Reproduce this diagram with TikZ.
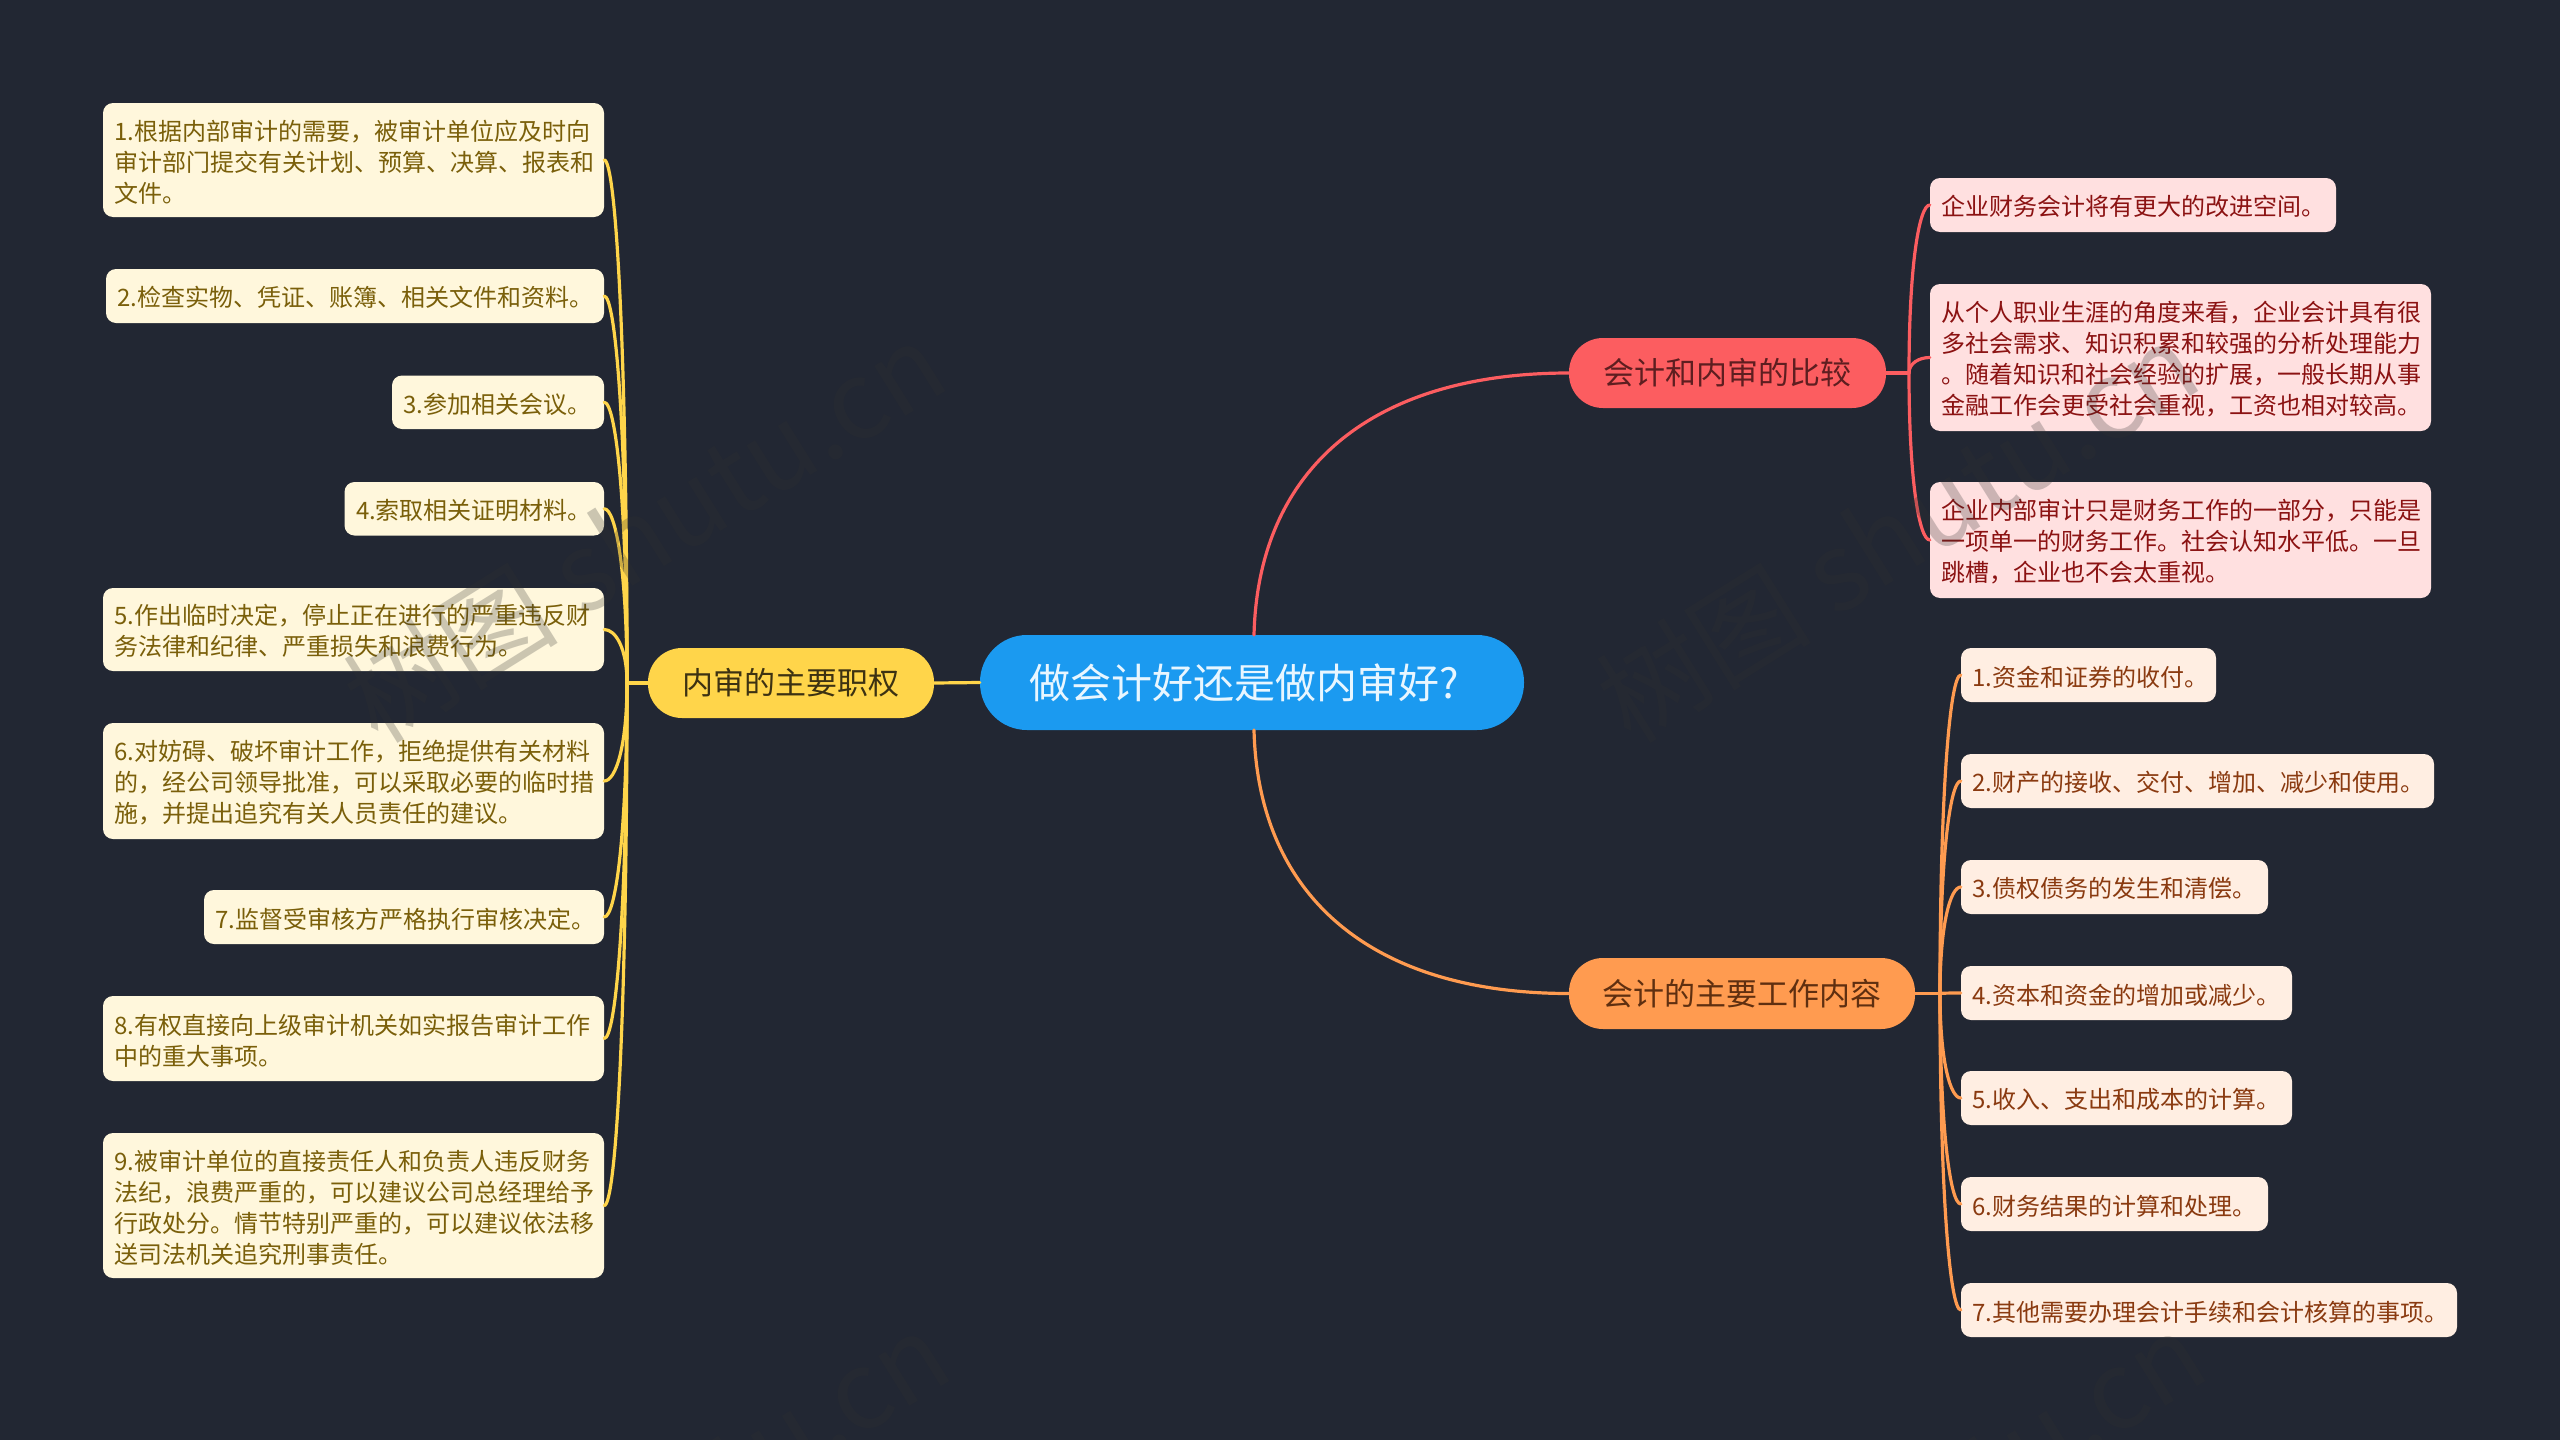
\documentclass[tikz,border=0pt]{standalone}
\usepackage{fontspec}
\usetikzlibrary{calc}
\setmainfont{Noto Sans CJK SC}
\definecolor{bgc}{HTML}{222733}
\definecolor{rootc}{HTML}{1B9AF0}
\definecolor{roott}{HTML}{E8F6FF}
\definecolor{yelc}{HTML}{FFD54A}
\definecolor{yelt}{HTML}{3D3212}
\definecolor{yell}{HTML}{FFF7DC}
\definecolor{yeltt}{HTML}{7A5F0A}
\definecolor{redc}{HTML}{FC5D60}
\definecolor{redt}{HTML}{5E1E20}
\definecolor{redl}{HTML}{FFE0E0}
\definecolor{redtt}{HTML}{8B1212}
\definecolor{orac}{HTML}{FF9B50}
\definecolor{orat}{HTML}{5F2F10}
\definecolor{oral}{HTML}{FFEEE2}
\definecolor{oratt}{HTML}{8A3A10}
\definecolor{wmc}{HTML}{303030}
\tikzset{
  x=1pt,y=-1pt,
  box/.style={rectangle,inner sep=0pt,align=left},
  rootbox/.style={box,rounded corners=47pt,fill=rootc,text=roott,align=center,font=\fontsize{41}{48}\selectfont},
  topicbox/.style={box,rounded corners=34pt,align=center,font=\fontsize{31}{38}\selectfont},
  leafbox/.style={box,rounded corners=10pt,font=\fontsize{24}{31}\selectfont},
  yt/.style={topicbox,fill=yelc,text=yelt},
  rt/.style={topicbox,fill=redc,text=redt},
  ot/.style={topicbox,fill=orac,text=orat},
  yl/.style={leafbox,fill=yell,text=yeltt},
  rl/.style={leafbox,fill=redl,text=redtt},
  ol/.style={leafbox,fill=oral,text=oratt},
  link/.style={line width=3.2pt,line cap=round},
  ylink/.style={link,draw=yelc},
  rlink/.style={link,draw=redc},
  olink/.style={link,draw=orac},
  wmark/.style={text=wmc,text opacity=0.25,font=\fontsize{108}{116}\selectfont,rotate=32},
}
% \nd{style}{name}{x0}{y0}{x1}{y1}{text}: box by its pixel edges
\newcommand{\nd}[7]{%
  \pgfmathsetmacro{\bw}{#5-#3}\pgfmathsetmacro{\bh}{#6-#4}%
  \pgfmathsetmacro{\cx}{(#3+#5)/2}\pgfmathsetmacro{\cy}{(#4+#6)/2}%
  \node[#1,minimum width=\bw pt,minimum height=\bh pt] (#2) at (\cx,\cy) {#7};}
% \lf: leaf with left-aligned text
\newcommand{\lf}[7]{%
  \pgfmathsetmacro{\bw}{#5-#3}\pgfmathsetmacro{\bh}{#6-#4}\pgfmathsetmacro{\tw}{#5-#3-23}%
  \pgfmathsetmacro{\cx}{(#3+#5)/2}\pgfmathsetmacro{\cy}{(#4+#6)/2}%
  \node[#1,minimum width=\bw pt,minimum height=\bh pt,text width=\tw pt] (#2) at (\cx,\cy) {\rule{0pt}{24pt}#7};}
% \lk: trunk to leaf curve
\newcommand{\lk}[3]{%
  \draw[#1] (#2) .. controls ($(#2)!0.65!(#2 |- #3)$) and ($(#2 |- #3)!0.5!(#3)$) .. (#3);}
\begin{document}
\begin{tikzpicture}
\useasboundingbox (0,0) rectangle (2560,1440);
\fill[bgc] (0,0) rectangle (2560,1440);

\nd{rootbox}{root}{980}{635}{1524}{730}{\hspace*{-16pt}做会计好还是做内审好?}
\nd{yt}{ty}{648}{648}{934}{718}{内审的主要职权}
\nd{rt}{tr}{1569}{338}{1886}{408}{会计和内审的比较}
\nd{ot}{to}{1569}{958}{1915}{1029}{会计的主要工作内容}

\lf{yl}{la}{103}{103}{604}{217}{1.根据内部审计的需要，被审计单位应及时向\\审计部门提交有关计划、预算、决算、报表和\\文件。}
\lf{yl}{lb}{106}{269}{604}{323}{2.检查实物、凭证、账簿、相关文件和资料。}
\lf{yl}{lc}{392}{375.5}{604}{429}{3.参加相关会议。}
\lf{yl}{ld}{344.5}{482}{604}{535.5}{4.索取相关证明材料。}
\lf{yl}{le}{103}{588}{604}{671}{5.作出临时决定，停止正在进行的严重违反财\\务法律和纪律、严重损失和浪费行为。}
\lf{yl}{lf}{103}{723}{604}{839}{6.对妨碍、破坏审计工作，拒绝提供有关材料\\的，经公司领导批准，可以采取必要的临时措\\施，并提出追究有关人员责任的建议。}
\lf{yl}{lg}{204}{890}{604}{944}{7.监督受审核方严格执行审核决定。}
\lf{yl}{lh}{103}{996}{604}{1081}{8.有权直接向上级审计机关如实报告审计工作\\中的重大事项。}
\lf{yl}{li}{103}{1133}{604}{1278}{9.被审计单位的直接责任人和负责人违反财务\\法纪，浪费严重的，可以建议公司总经理给予\\行政处分。情节特别严重的，可以建议依法移\\送司法机关追究刑事责任。}

\lf{rl}{ra}{1930}{178}{2336}{232}{企业财务会计将有更大的改进空间。}
\lf{rl}{rb}{1930}{284}{2431}{431}{从个人职业生涯的角度来看，企业会计具有很\\多社会需求、知识积累和较强的分析处理能力\\。随着知识和社会经验的扩展，一般长期从事\\金融工作会更受社会重视，工资也相对较高。}
\lf{rl}{rc}{1930}{482}{2431}{598}{企业内部审计只是财务工作的一部分，只能是\\一项单一的财务工作。社会认知水平低。一旦\\跳槽，企业也不会太重视。}

\lf{ol}{oa}{1961}{648}{2216}{702}{1.资金和证券的收付。}
\lf{ol}{ob}{1961}{754}{2434}{808}{2.财产的接收、交付、增加、减少和使用。}
\lf{ol}{oc}{1961}{860}{2268}{914}{3.债权债务的发生和清偿。}
\lf{ol}{od}{1961}{966}{2292}{1020}{4.资本和资金的增加或减少。}
\lf{ol}{oe}{1961}{1071}{2292}{1125}{5.收入、支出和成本的计算。}
\lf{ol}{of}{1961}{1177}{2268}{1231}{6.财务结果的计算和处理。}
\lf{ol}{og}{1961}{1283}{2457}{1337}{7.其他需要办理会计手续和会计核算的事项。}

\coordinate (ytrunk) at (627,683);
\coordinate (rtrunk) at (1909,373);
\coordinate (otrunk) at (1940,993.5);
\coordinate (rootup) at (1254,635);
\coordinate (rootdn) at (1254,730);

\draw[ylink] (root.west) -- (ty.east);
\draw[rlink] (rootup) .. controls (1258,470) and (1370,373) .. (tr.west);
\draw[olink] (rootdn) .. controls (1258,895) and (1370,993.5) .. (to.west);

\draw[ylink] (ty.west) -- (ytrunk);
\draw[rlink] (tr.east) -- (rtrunk);
\draw[olink] (to.east) -- (otrunk);
\foreach \n in {la,lb,lc,ld,le,lf,lg,lh,li}{\lk{ylink}{ytrunk}{\n.east}}
\foreach \n in {ra,rb,rc}{\lk{rlink}{rtrunk}{\n.west}}
\foreach \n in {oa,ob,oc,od,oe,of,og}{\lk{olink}{otrunk}{\n.west}}

\node[wmark] (wa) at (644,531) {树图 shutu.cn};
\node[wmark] (wb) at (1897,531) {树图 shutu.cn};
\node[wmark] (wc) at (648,1521) {树图 shutu.cn};
\node[wmark] (wd) at (1904,1521) {树图 shutu.cn};
\end{tikzpicture}
\end{document}
